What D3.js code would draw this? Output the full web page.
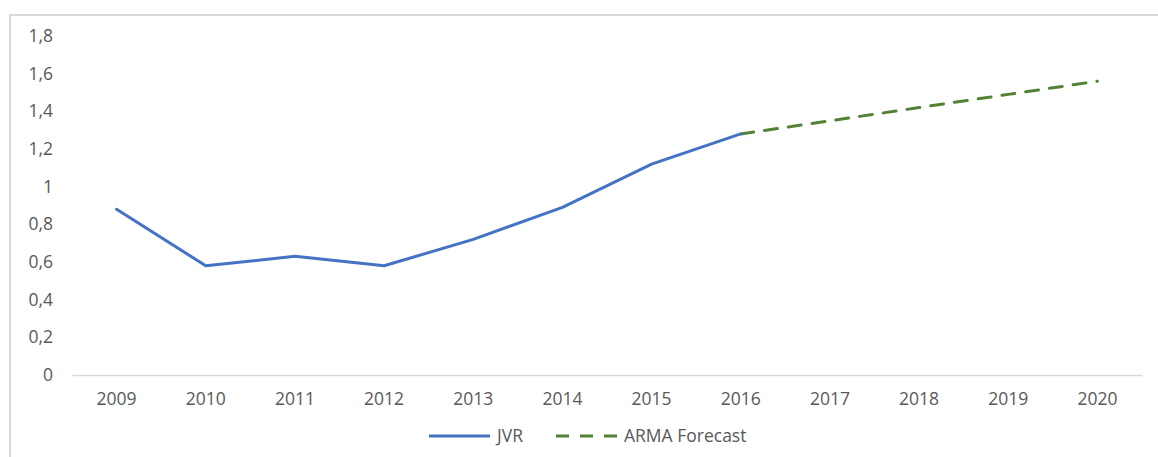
<!DOCTYPE html>
<html>
<head>
<meta charset="utf-8">
<script src="https://cdn.jsdelivr.net/npm/d3@7"></script>
<style>
  html, body { margin: 0; padding: 0; background: #fff; }
  svg { display: block; }
  text { font-family: "Open Sans", "Noto Sans", sans-serif; fill: #595959; }
</style>
</head>
<body>
<svg id="chart" width="1158" height="457"></svg>
<script>
// Years on the category axis
const years = ["2009", "2010", "2011", "2012", "2013", "2014", "2015", "2016", "2017", "2018", "2019", "2020"];
// Observed JVR series (2009–2016)
const jvrYears = ["2009", "2010", "2011", "2012", "2013", "2014", "2015", "2016"];
const jvrValues = [0.88, 0.58, 0.63, 0.58, 0.72, 0.89, 1.12, 1.28];
// ARMA forecast (starts at the last observed point)
const forecastYears = ["2016", "2017", "2018", "2019", "2020"];
const forecastValues = [1.28, 1.35, 1.42, 1.49, 1.56];
// Y axis ticks
const yTicks = [0, 0.2, 0.4, 0.6, 0.8, 1, 1.2, 1.4, 1.6, 1.8];

const svg = d3.select("#chart");
const W = 1158, H = 457;
const plot = { left: 72, right: 1142, top: 36, bottom: 375 };
const FONT = '"Open Sans", "Noto Sans", sans-serif';
const FS = 17.5;

// Chart frame (top and left edges visible)
svg.append("rect")
  .attr("x", 10).attr("y", 15)
  .attr("width", W + 20).attr("height", H + 20)
  .attr("fill", "none")
  .attr("stroke", "#d9d9d9")
  .attr("stroke-width", 2);

const x = d3.scaleBand().domain(years).range([plot.left, plot.right]).padding(0);
const y = d3.scaleLinear().domain([0, 1.8]).range([plot.bottom, plot.top]);
const cx = d => x(d) + x.bandwidth() / 2;

const fmt = v => String(+v.toFixed(1)).replace(".", ",");

// Y axis labels
const yAxis = d3.axisLeft(y).tickValues(yTicks).tickFormat(fmt).tickSize(0).tickPadding(0);
const yg = svg.append("g").attr("transform", `translate(53,0)`).call(yAxis);
yg.select(".domain").remove();
yg.selectAll("text").attr("font-size", FS).attr("fill", "#595959").style("font-family", FONT);

// X axis
const xAxis = d3.axisBottom(x).tickSize(0).tickPadding(18);
const xg = svg.append("g").attr("transform", `translate(0,${plot.bottom})`).call(xAxis);
xg.select(".domain").attr("stroke", "#d9d9d9").attr("stroke-width", 1.5);
xg.selectAll("text").attr("font-size", FS).attr("fill", "#595959").style("font-family", FONT);

const line = d3.line().x(d => cx(d[0])).y(d => y(d[1]));

// Forecast (dashed green)
svg.append("path")
  .datum(d3.zip(forecastYears, forecastValues))
  .attr("d", line)
  .attr("fill", "none")
  .attr("stroke", "#548235")
  .attr("stroke-width", 3)
  .attr("stroke-dasharray", "13 11")
  .attr("stroke-linecap", "round");

// Observed JVR (solid blue)
svg.append("path")
  .datum(d3.zip(jvrYears, jvrValues))
  .attr("d", line)
  .attr("fill", "none")
  .attr("stroke", "#4472c4")
  .attr("stroke-width", 3)
  .attr("stroke-linejoin", "round")
  .attr("stroke-linecap", "round");

// Legend
const legendY = 436;
const legend = svg.append("g");
legend.append("line")
  .attr("x1", 429).attr("x2", 490).attr("y1", legendY).attr("y2", legendY)
  .attr("stroke", "#4472c4").attr("stroke-width", 3);
legend.append("text")
  .attr("x", 497).attr("y", legendY).attr("dy", "0.35em")
  .attr("font-size", FS).style("font-family", FONT).text("JVR");
legend.append("line")
  .attr("x1", 556).attr("x2", 617).attr("y1", legendY).attr("y2", legendY)
  .attr("stroke", "#548235").attr("stroke-width", 3)
  .attr("stroke-dasharray", "13 11");
legend.append("text")
  .attr("x", 624).attr("y", legendY).attr("dy", "0.35em")
  .attr("font-size", FS).style("font-family", FONT).text("ARMA Forecast");
</script>
</body>
</html>
